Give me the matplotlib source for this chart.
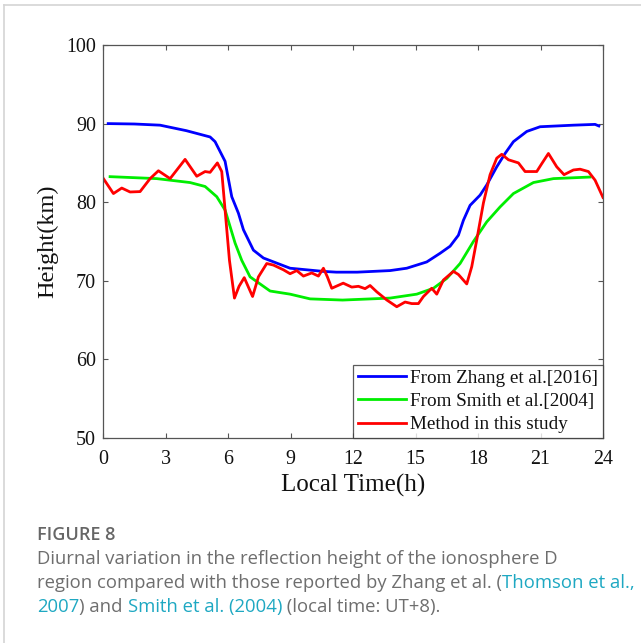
import matplotlib
matplotlib.use("Agg")
import matplotlib.pyplot as plt
from matplotlib.lines import Line2D

# Reflection height of the D region over one local day
zhang_t = [0.25, 1.5, 2.74, 4.0, 5.14, 5.38, 5.86, 6.18, 6.5, 6.74, 7.22, 7.7,
           8.98, 10.56, 11.2, 12.2, 13.78, 14.58, 15.54, 16.18, 16.66, 17.06,
           17.3, 17.62, 18.1, 18.42, 18.9, 19.3, 19.7, 20.34, 20.98, 22.58,
           23.62, 23.8]
zhang_h = [90.0, 89.95, 89.8, 89.1, 88.3, 87.7, 85.2, 80.7, 78.6, 76.5, 73.9,
           72.9, 71.6, 71.2, 71.1, 71.1, 71.3, 71.6, 72.4, 73.5, 74.4, 75.8,
           77.7, 79.6, 80.9, 82.2, 84.5, 86.2, 87.7, 89.0, 89.6, 89.8, 89.9,
           89.7]

smith_t = [0.34, 2.58, 4.18, 4.9, 5.46, 5.86, 6.1, 6.34, 6.66, 7.06, 8.02,
           8.98, 9.94, 11.5, 13.78, 15.06, 15.86, 16.5, 17.14, 17.78, 18.42,
           19.06, 19.7, 20.66, 21.62, 23.38]
smith_h = [83.25, 83.0, 82.5, 82.0, 80.7, 79.0, 76.9, 74.8, 72.6, 70.5, 68.7,
           68.3, 67.7, 67.55, 67.8, 68.3, 69.05, 70.3, 72.2, 75.0, 77.5, 79.4,
           81.1, 82.5, 83.0, 83.2]

study_t = [0.02, 0.5, 0.9, 1.3, 1.78, 2.26, 2.66, 3.22, 3.94, 4.5, 4.9, 5.14,
           5.49, 5.7, 5.86, 6.07, 6.31, 6.53, 6.78, 6.98, 7.18, 7.46, 7.86,
           8.18, 8.66, 8.98, 9.3, 9.62, 10.02, 10.34, 10.58, 10.77, 10.98,
           11.53, 11.94, 12.26, 12.58, 12.82, 13.14, 13.62, 14.1, 14.5, 14.82,
           15.14, 15.38, 15.78, 16.02, 16.34, 16.82, 17.06, 17.46, 17.7, 17.94,
           18.26, 18.58, 18.9, 19.14, 19.46, 19.94, 20.26, 20.82, 21.06, 21.38,
           21.78, 22.13, 22.58, 22.9, 23.3, 23.62, 24.0]
study_h = [83.0, 81.1, 81.8, 81.3, 81.35, 83.0, 84.0, 83.0, 85.45, 83.3, 83.9,
           83.8, 85.0, 83.9, 79.0, 72.6, 67.8, 69.3, 70.4, 69.2, 68.0, 70.5,
           72.2, 72.0, 71.4, 70.9, 71.3, 70.6, 71.0, 70.6, 71.6, 70.5, 69.05,
           69.7, 69.2, 69.3, 69.0, 69.4, 68.6, 67.56, 66.7, 67.3, 67.1, 67.1,
           68.0, 69.05, 68.3, 70.1, 71.2, 70.8, 69.6, 71.8, 75.2, 79.9, 83.5,
           85.6, 86.1, 85.4, 85.0, 83.9, 83.9, 84.9, 86.2, 84.5, 83.5, 84.1,
           84.2, 83.9, 82.8, 80.6]

labels = ["From Zhang et al.[2016]", "From Smith et al.[2004]",
          "Method in this study"]
x_ticks = [0, 3, 6, 9, 12, 15, 18, 21, 24]
y_ticks = [50, 60, 70, 80, 90, 100]

W, H = 641, 643
fig = plt.figure(figsize=(W / 100, H / 100), dpi=100)
serif = "Liberation Serif"

ax = fig.add_axes([103 / W, 1 - 438 / H, 500 / W, 393 / H])
lw = 2.0
ax.plot(zhang_t, zhang_h, color="#0000ff", lw=lw, label=labels[0],
        solid_joinstyle="round")
ax.plot(smith_t, smith_h, color="#00ee00", lw=lw, label=labels[1],
        solid_joinstyle="round")
ax.plot(study_t, study_h, color="#ff0000", lw=lw, label=labels[2],
        solid_joinstyle="round")

ax.set_xlim(0, 24)
ax.set_ylim(50, 100)
ax.set_xticks(x_ticks)
ax.set_yticks(y_ticks)
for sp in ax.spines.values():
    sp.set_color("#555555")
    sp.set_linewidth(0.9)
ax.tick_params(direction="in", top=True, right=True, length=3.5, width=0.8,
               color="#555555", labelsize=14.4, labelcolor="#111111")
ax.tick_params(axis="x", pad=9)
ax.tick_params(axis="y", pad=5)
for lab in ax.get_xticklabels() + ax.get_yticklabels():
    lab.set_fontfamily(serif)

ax.set_xlabel("Local Time(h)", fontfamily=serif, fontsize=18, labelpad=3,
              color="#111111")
ax.set_ylabel("Height(km)", fontfamily=serif, fontsize=17.5, labelpad=6,
              color="#111111")

leg = ax.legend(loc="lower right", borderaxespad=0, prop={"family": serif,
                "size": 13.8}, frameon=True, fancybox=False,
                handlelength=2.5, handletextpad=0.25, labelspacing=0.3,
                borderpad=0.25)
leg.get_frame().set_edgecolor("#333333")
leg.get_frame().set_linewidth(0.9)
for t in leg.get_texts():
    t.set_color("#111111")

# thin frame around the figure panel
fig.add_artist(Line2D([4 / W, 1], [1 - 4.5 / H, 1 - 4.5 / H],
                      transform=fig.transFigure, color="#d4d4d4", lw=1.2))
fig.add_artist(Line2D([4 / W, 4 / W], [0, 1 - 4.5 / H],
                      transform=fig.transFigure, color="#d4d4d4", lw=1.2))

# caption
cap_font = "Open Sans"
gray = "#6e6e6e"
teal = "#1ea8c2"
fig.text(37 / W, 1 - 540 / H, "FIGURE 8", fontfamily=cap_font,
         fontweight="semibold", fontsize=13, color="#666666", va="baseline")

caption = [
    [("Diurnal variation in the reflection height of the ionosphere D", gray)],
    [("region compared with those reported by Zhang et al. (", gray),
     ("Thomson et al.,", teal)],
    [("2007", teal), (") and ", gray), ("Smith et al. (2004)", teal),
     (" (local time: UT+8).", gray)],
]
renderer = fig.canvas.get_renderer()
baselines = [564, 588, 612]
for parts, yb in zip(caption, baselines):
    x = 37 / W
    for txt, col in parts:
        t = fig.text(x, 1 - yb / H, txt, fontfamily=cap_font, fontsize=13.3,
                     color=col, va="baseline")
        bb = t.get_window_extent(renderer)
        x = bb.x1 / W

fig.savefig("out.png", dpi=100)
